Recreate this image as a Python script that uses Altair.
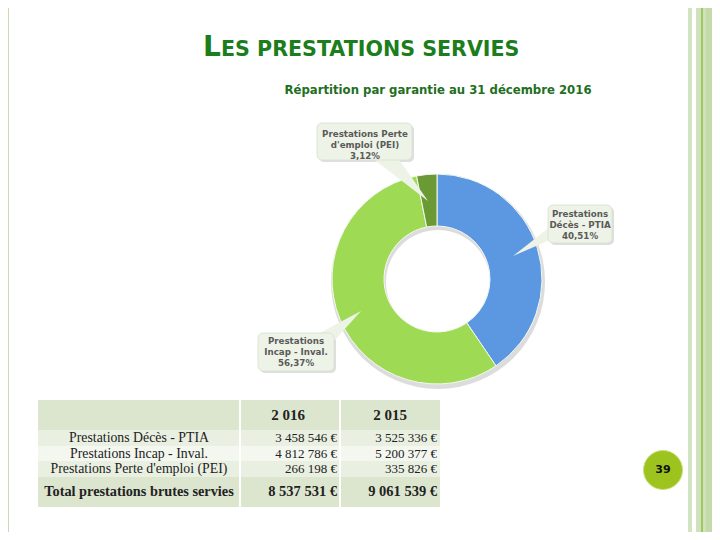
import altair as alt
import pandas as pd

# ---------------- data ----------------
categories = ["Prestations Décès - PTIA", "Prestations Incap - Inval.", "Prestations Perte d'emploi (PEI)"]
callout_names = ["Prestations\nDécès - PTIA", "Prestations\nIncap - Inval.", "Prestations Perte\nd'emploi (PEI)"]
values_2016 = [3458546, 4812786, 266198]
values_2015 = [3525336, 5200377, 335826]
totals = [8537531, 9061539]
year_labels = ["2 016", "2 015"]
total_label = "Total prestations brutes servies"
title_first = "L"
title_rest = "ES PRESTATIONS SERVIES"
subtitle = "Répartition par garantie au 31 décembre 2016"
page_number = "39"

slice_colors = ["#5b98e1", "#9fda55", "#6b9a35"]

O = 8  # page margin: chart origin sits at (8, 8) on the page
CW, CH = 704, 524


def euro(v):
    return f"{v:,}".replace(",", " ") + " €"


s16 = sum(values_2016)
pie_df = pd.DataFrame({
    "category": categories,
    "value": values_2016,
    "order": list(range(len(categories))),
    "label": [n + "\n" + f"{v / s16 * 100:.2f}".replace(".", ",") + "%" for n, v in zip(callout_names, values_2016)],
})
tbl_df = pd.DataFrame({
    "row": categories,
    "v2016": [euro(v) for v in values_2016],
    "v2015": [euro(v) for v in values_2015],
})
hdr_df = pd.DataFrame({"year": year_labels, "total": [euro(t) for t in totals], "col": [0, 1]})
one = pd.DataFrame({"k": [0]})


# ---------------- helpers (page coordinates -> chart coordinates) ----------------
def X(v):
    return min(max(v - O, 0), CW)


def Y(v):
    return min(max(v - O, 0), CH)


def rect(x, x2, y, y2, color, **kw):
    return alt.Chart(one).mark_rect(color=color, **kw).encode(
        x=alt.value(X(x)), x2=alt.value(X(x2)), y=alt.value(Y(y)), y2=alt.value(Y(y2)))


def txt(t, x, y, **kw):
    return alt.Chart(one).mark_text(text=t, **kw).encode(x=alt.value(X(x)), y=alt.value(Y(y)))


def tri(pts, color):
    xs = [p[0] for p in pts]
    ys = [p[1] for p in pts]
    cx = (min(xs) + max(xs)) / 2
    cy = (min(ys) + max(ys)) / 2
    half = max(max(xs) - min(xs), max(ys) - min(ys)) / 2
    path = "M" + " L".join(f"{(px - cx) / half:.3f},{(py - cy) / half:.3f}" for px, py in pts) + " Z"
    return alt.Chart(one).mark_point(shape=path, filled=True, color=color, opacity=1,
                                     size=(2 * half) ** 2, strokeWidth=0).encode(
        x=alt.value(X(cx)), y=alt.value(Y(cy)))


layers = []
# borders
layers.append(rect(3, 9, 0, 540, "#c9dcb1"))
layers.append(rect(688, 692, 0, 540, "#d3e4c2"))
layers.append(rect(696, 720, 0, 540, "#cfe2b9"))
layers.append(rect(706, 712, 0, 540, "#c4daa8"))
layers.append(rect(701, 703, 0, 540, "#9ec662"))

# titles
layers.append(txt(title_first, 203, 56, font="DejaVu Sans", fontSize=28, fontWeight="bold",
                  color="#1b7d1b", align="left", baseline="alphabetic"))
layers.append(txt(title_rest, 221, 56, font="DejaVu Sans", fontSize=20.6, fontWeight="bold",
                  color="#1b7d1b", align="left", baseline="alphabetic"))
layers.append(txt(subtitle, 438, 94, font="DejaVu Sans", fontSize=11.7, fontWeight="bold",
                  color="#226f22", align="center", baseline="alphabetic"))

# donut shadow
layers.append(alt.Chart(one).mark_arc(theta=0, theta2=6.2832, outerRadius=107, innerRadius=52,
                                      color="#9a9a9a", opacity=0.35).encode(
    x=alt.value(X(438)), y=alt.value(Y(282))))
# donut
layers.append(alt.Chart(pie_df).mark_arc(outerRadius=105, innerRadius=53, stroke="#f4f8ef",
                                         strokeWidth=1).encode(
    theta=alt.Theta("value:Q", stack=True),
    color=alt.Color("category:N", scale=alt.Scale(domain=categories, range=slice_colors), legend=None),
    order=alt.Order("order:Q"),
    x=alt.value(X(437)), y=alt.value(Y(279))))

# callouts: (box x, x2, y, y2), first text line centre, pointer triangle
callouts = [
    ((548, 612, 205, 243), (580, 214), [(550, 227), (550, 240), (513, 256)]),
    ((258, 334, 333, 371), (296, 341), [(316, 335), (334, 341), (361, 311)]),
    ((317, 412, 123, 160), (365, 134), [(372, 158), (398, 158), (428, 201)]),
]
box_fill = "#eef3e7"
for (x, x2, y, y2), _, _ in callouts:
    layers.append(rect(x + 2, x2 + 2, y + 2, y2 + 2, "#b8b8b8", cornerRadius=5, opacity=0.45))
for (x, x2, y, y2), _, pts in callouts:
    layers.append(tri(pts, box_fill))
    layers.append(rect(x, x2, y, y2, box_fill, cornerRadius=5, stroke="#d6dfcb", strokeWidth=0.8))
for cat, (_, (tx, ty), _) in zip(categories, callouts):
    layers.append(alt.Chart(pie_df).transform_filter(alt.datum.category == cat).mark_text(
        font="DejaVu Sans", fontSize=8.7, fontWeight="bold", color="#5a5a5a",
        lineBreak="\n", lineHeight=11, align="center", baseline="middle").encode(
        x=alt.value(X(tx)), y=alt.value(Y(ty)), text="label:N"))

# table backgrounds
layers.append(rect(38, 440, 400, 430, "#dce6cf"))
layers.append(rect(38, 440, 430, 446, "#e9f0e1"))
layers.append(rect(38, 440, 446, 461, "#f3f7ef"))
layers.append(rect(38, 440, 461, 477, "#e9f0e1"))
layers.append(rect(38, 440, 477, 507, "#dce6cf"))
layers.append(rect(239, 241, 400, 507, "#ffffff"))
layers.append(rect(339, 341, 400, 507, "#ffffff"))

serif = "Liberation Serif"
ink = "#222222"
row_y = alt.Y("row:N", scale=alt.Scale(type="point", domain=categories, range=[Y(438), Y(469)], padding=0),
              axis=None)
layers.append(alt.Chart(tbl_df).mark_text(font=serif, fontSize=13.8, color=ink, align="center",
                                          baseline="middle").encode(
    x=alt.value(X(139)), y=row_y, text="row:N"))
layers.append(alt.Chart(tbl_df).mark_text(font=serif, fontSize=13, color=ink, align="right",
                                          baseline="middle").encode(
    x=alt.value(X(337)), y=row_y, text="v2016:N"))
layers.append(alt.Chart(tbl_df).mark_text(font=serif, fontSize=13, color=ink, align="right",
                                          baseline="middle").encode(
    x=alt.value(X(437)), y=row_y, text="v2015:N"))

col_x = alt.X("col:O", scale=alt.Scale(type="point", domain=[0, 1], range=[X(288), X(390)], padding=0),
              axis=None)
col_xr = alt.X("col:O", scale=alt.Scale(type="point", domain=[0, 1], range=[X(337), X(437)], padding=0),
               axis=None)
layers.append(alt.Chart(hdr_df).mark_text(font=serif, fontSize=15, fontWeight="bold", color=ink,
                                          align="center", baseline="middle").encode(
    x=col_x, y=alt.value(Y(415)), text="year:N"))
layers.append(alt.Chart(hdr_df).mark_text(font=serif, fontSize=14.5, fontWeight="bold", color=ink,
                                          align="right", baseline="middle").encode(
    x=col_xr, y=alt.value(Y(492)), text="total:N"))
layers.append(txt(total_label, 139, 492, font=serif, fontSize=14.3, fontWeight="bold", color=ink,
                  align="center", baseline="middle"))

# page number
layers.append(alt.Chart(one).mark_circle(size=1520, color="#9dc41e", opacity=1, stroke="#c8e07a",
                                         strokeWidth=1).encode(x=alt.value(X(663)), y=alt.value(Y(470))))
layers.append(txt(page_number, 663, 470, font="DejaVu Sans", fontSize=11, fontWeight="bold",
                  color="#111111", align="center", baseline="middle"))

chart = alt.layer(*layers).resolve_scale(x="independent", y="independent", color="independent",
                                          theta="independent").properties(
    width=CW, height=CH,
    autosize=alt.AutoSizeParams(type="none"),
    padding=0,
).configure_view(stroke=None)

chart.save("out.html", embed_options={"renderer": "svg", "actions": False})
